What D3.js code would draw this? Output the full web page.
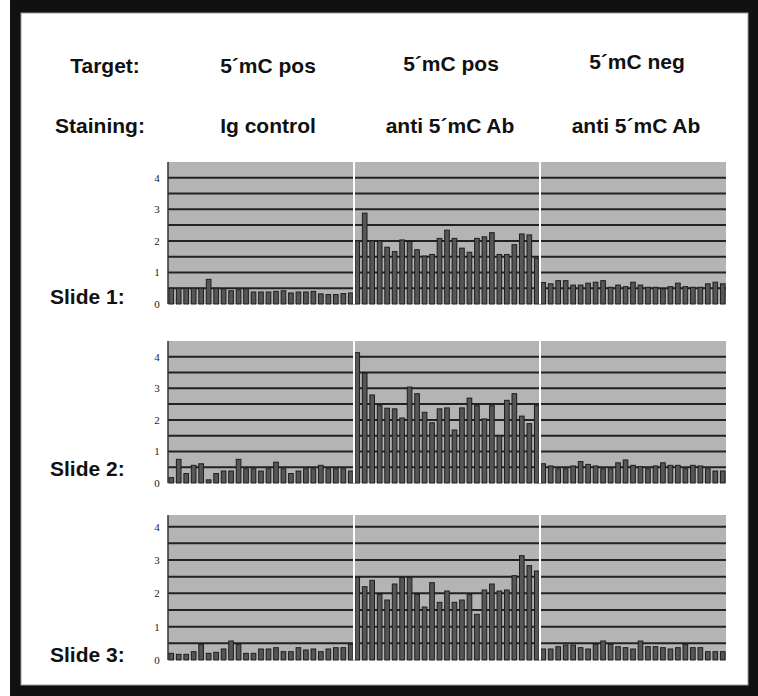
<!DOCTYPE html>
<html>
<head>
<meta charset="utf-8">
<script src="https://cdn.jsdelivr.net/npm/d3@7"></script>
<style>
  body { margin: 0; background: #fff; }
  svg { display: block; }
</style>
</head>
<body>
<div id="chart"></div>
<script>
// column headers
const targets = ["5´mC pos", "5´mC pos", "5´mC neg"];
const stainings = ["Ig control", "anti 5´mC Ab", "anti 5´mC Ab"];
const slideNames = ["Slide 1:", "Slide 2:", "Slide 3:"];
const yTicks = [0, 1, 2, 3, 4];
const gridValues = [0.5, 1, 1.5, 2, 2.5, 3, 3.5, 4];

// bar values, 25 wells per group
const slide1Ig = [0.5, 0.5, 0.5, 0.5, 0.5, 0.78, 0.5, 0.48, 0.42, 0.45, 0.48, 0.38, 0.38, 0.38, 0.4, 0.42, 0.35, 0.38, 0.38, 0.4, 0.32, 0.3, 0.3, 0.33, 0.35];
const slide1Pos = [2.0, 2.88, 2.0, 2.0, 1.8, 1.66, 2.03, 1.98, 1.72, 1.52, 1.57, 2.08, 2.34, 2.08, 1.77, 1.64, 2.08, 2.13, 2.26, 1.57, 1.57, 1.88, 2.22, 2.19, 1.45];
const slide1Neg = [0.68, 0.64, 0.74, 0.74, 0.6, 0.6, 0.66, 0.69, 0.74, 0.53, 0.6, 0.55, 0.69, 0.6, 0.53, 0.53, 0.48, 0.55, 0.66, 0.55, 0.53, 0.53, 0.64, 0.69, 0.64];
const slide2Ig = [0.17, 0.75, 0.3, 0.56, 0.61, 0.1, 0.3, 0.38, 0.38, 0.75, 0.45, 0.45, 0.38, 0.45, 0.66, 0.45, 0.3, 0.38, 0.45, 0.45, 0.56, 0.45, 0.45, 0.45, 0.38];
const slide2Pos = [4.13, 3.48, 2.79, 2.45, 2.37, 2.35, 2.06, 3.04, 2.83, 2.24, 1.91, 2.35, 2.38, 1.68, 2.38, 2.69, 2.45, 2.03, 2.45, 1.49, 2.62, 2.83, 2.12, 1.88, 2.45];
const slide2Neg = [0.61, 0.54, 0.45, 0.45, 0.54, 0.68, 0.59, 0.54, 0.45, 0.45, 0.64, 0.73, 0.56, 0.52, 0.45, 0.54, 0.64, 0.56, 0.56, 0.45, 0.56, 0.54, 0.45, 0.38, 0.38];
const slide3Ig = [0.2, 0.17, 0.17, 0.25, 0.47, 0.2, 0.23, 0.33, 0.57, 0.47, 0.2, 0.2, 0.33, 0.33, 0.37, 0.25, 0.25, 0.37, 0.3, 0.33, 0.25, 0.33, 0.37, 0.37, 0.47];
const slide3Pos = [2.48, 2.2, 2.39, 1.97, 1.8, 2.28, 2.47, 2.47, 1.97, 1.59, 2.32, 1.73, 2.07, 1.73, 1.8, 1.97, 1.37, 2.1, 2.28, 2.07, 2.1, 2.53, 3.13, 2.83, 2.67];
const slide3Neg = [0.33, 0.33, 0.4, 0.45, 0.45, 0.37, 0.33, 0.47, 0.57, 0.47, 0.4, 0.37, 0.33, 0.57, 0.4, 0.4, 0.37, 0.33, 0.37, 0.47, 0.37, 0.37, 0.25, 0.25, 0.25];

const slideData = [
    [slide1Ig, slide1Pos, slide1Neg],
    [slide2Ig, slide2Pos, slide2Neg],
    [slide3Ig, slide3Pos, slide3Neg]
];

// panel geometry (top of gray area, zero line, value at the top edge)
const panels = [
    { top: 162, zero: 304, max: 4.5, labelY: 304 },
    { top: 341, zero: 483, max: 4.5, labelY: 476 },
    { top: 515, zero: 660, max: 4.35, labelY: 662 }
];

const width = 758, height = 696;
const font = "'Liberation Sans', Arial, sans-serif";

const svg = d3.select("#chart").append("svg")
    .attr("width", width)
    .attr("height", height);

// black frame with white card inside
svg.append("rect").attr("x", 10).attr("y", 0).attr("width", width - 10).attr("height", height).attr("fill", "#111");
svg.append("rect").attr("x", 21).attr("y", 13).attr("width", 727).attr("height", 672)
    .attr("fill", "#fff").attr("stroke", "#9a9a9a").attr("stroke-width", 1);

// column positions
const col = d3.scaleBand().domain([0, 1, 2]).range([168, 726]);
const well = d3.scaleBand().domain(d3.range(25)).range([0, col.bandwidth()])
    .paddingInner(0.38).paddingOuter(0.12);

// header rows
const header = svg.append("g")
    .attr("font-family", font)
    .attr("font-weight", "bold")
    .attr("font-size", 21)
    .attr("fill", "#111");

header.append("text").attr("x", 105).attr("y", 73).attr("text-anchor", "middle").text("Target:");
header.append("text").attr("x", 100).attr("y", 133).attr("text-anchor", "middle").text("Staining:");

const targetY = [73, 71, 69];
header.selectAll("text.target")
    .data(targets)
    .enter().append("text")
    .attr("class", "target")
    .attr("x", (d, i) => col(i) + col.bandwidth() / 2 + (i === 0 ? 7 : 4))
    .attr("y", (d, i) => targetY[i])
    .attr("text-anchor", "middle")
    .text(d => d);

header.selectAll("text.stain")
    .data(stainings)
    .enter().append("text")
    .attr("class", "stain")
    .attr("x", (d, i) => col(i) + col.bandwidth() / 2 + (i === 0 ? 7 : 3))
    .attr("y", 133)
    .attr("text-anchor", "middle")
    .text(d => d);

// one panel per slide
panels.forEach(function(p, s) {
    const y = d3.scaleLinear().domain([0, p.max]).range([p.zero, p.top]);
    const g = svg.append("g");

    g.append("rect")
        .attr("x", col.range()[0])
        .attr("y", y(p.max))
        .attr("width", col.range()[1] - col.range()[0])
        .attr("height", y(0) - y(p.max))
        .attr("fill", "#b4b4b4");

    g.selectAll("line.grid")
        .data(gridValues)
        .enter().append("line")
        .attr("class", "grid")
        .attr("x1", col.range()[0])
        .attr("x2", col.range()[1])
        .attr("y1", d => y(d))
        .attr("y2", d => y(d))
        .attr("stroke", "#222")
        .attr("stroke-width", 2);

    slideData[s].forEach(function(values, c) {
        g.append("g")
            .attr("transform", `translate(${col(c)},0)`)
            .selectAll("rect")
            .data(values)
            .enter().append("rect")
            .attr("x", (d, i) => well(i))
            .attr("y", d => y(d))
            .attr("width", well.bandwidth())
            .attr("height", d => y(0) - y(d))
            .attr("fill", "#565656")
            .attr("stroke", "#1e1e1e")
            .attr("stroke-width", 1);
    });

    // white separators between groups
    g.selectAll("line.sep")
        .data([1, 2])
        .enter().append("line")
        .attr("x1", d => col(d))
        .attr("x2", d => col(d))
        .attr("y1", y(p.max))
        .attr("y2", y(0))
        .attr("stroke", "#fff")
        .attr("stroke-width", 2);

    g.append("line")
        .attr("x1", col.range()[0]).attr("x2", col.range()[0])
        .attr("y1", y(p.max)).attr("y2", y(0))
        .attr("stroke", "#333").attr("stroke-width", 1.5);

    g.selectAll("text.tick")
        .data(yTicks)
        .enter().append("text")
        .attr("class", "tick")
        .attr("x", 157)
        .attr("y", d => y(d) + 4)
        .attr("text-anchor", "middle")
        .attr("font-family", "'Liberation Serif', 'DejaVu Serif', serif")
        .attr("font-size", 11)
        .attr("fill", "#222")
        .text(d => d);

    svg.append("text")
        .attr("x", 50)
        .attr("y", p.labelY)
        .attr("font-family", font)
        .attr("font-weight", "bold")
        .attr("font-size", 21)
        .attr("fill", "#111")
        .text(slideNames[s]);
});
</script>
</body>
</html>
